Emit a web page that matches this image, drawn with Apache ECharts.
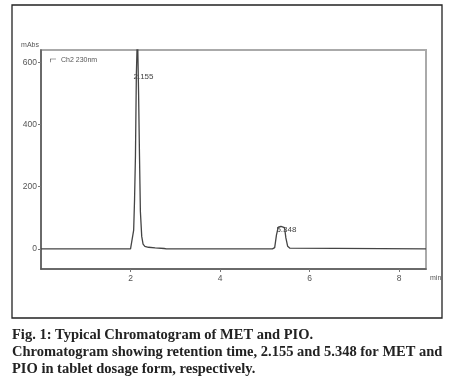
<!DOCTYPE html>
<html><head><meta charset="utf-8">
<script src="https://cdn.jsdelivr.net/npm/echarts@6/dist/echarts.min.js"></script>
<style>html,body{margin:0;padding:0;background:#fff}#c{width:466px;height:392px}</style>
</head><body><div id="c"></div>
<script>
// retention time (min) and absorbance (mAbs)
var times  = [0, 2.0, 2.04, 2.07, 2.09, 2.11, 2.13, 2.155, 2.18, 2.2, 2.22, 2.25, 2.28, 2.32, 2.4, 2.55, 2.75, 2.8, 5.17, 5.22, 5.26, 5.3, 5.33, 5.36, 5.4, 5.44, 5.47, 5.51, 5.56, 5.6, 8.6];
var values = [0, 0, 4, 60, 160, 300, 560, 700, 500, 300, 120, 40, 15, 8, 5, 3, 1, 0, 0, 4, 45, 70, 74, 72, 70, 68, 35, 8, 2, 0, 0];
var xTicks = [2, 4, 6, 8];
var yTicks = [0, 200, 400, 600];
var peakTimes  = [2.155, 5.348];
var peakLabels = ['2.155', '5.348'];
var peakLabelLevels = [555, 60];
var seriesName = 'Ch2 230nm';
var caption = [
  'Fig. 1: Typical Chromatogram of MET and PIO.',
  'Chromatogram showing retention time, 2.155 and 5.348 for MET and',
  'PIO in tablet dosage form, respectively.'
];

var pts = times.map(function (t, i) { return [t, values[i]]; });
var chart = echarts.init(document.getElementById('c'));
var tickFont = {fontSize: 8.5, color: '#555', fontFamily: 'Liberation Sans'};
chart.setOption({
  animation: false,
  grid: {left: 41, top: 50, right: 40, bottom: 123, show: true, borderColor: '#aaa', borderWidth: 2, backgroundColor: 'transparent'},
  legend: {left: 45, top: 52, itemWidth: 6, itemHeight: 4, itemGap: 2, icon: 'path://M0,0L10,0L10,1L1,1L1,6L0,6Z',
    textStyle: {fontSize: 7, color: '#555', fontFamily: 'Liberation Sans'}, data: [seriesName]},
  xAxis: {type: 'value', min: 0, max: 8.6, position: 'bottom',
    name: 'min', nameLocation: 'end', nameGap: 4, nameTextStyle: {fontSize: 7, color: '#555', verticalAlign: 'top', padding: [6,0,0,0]},
    axisLine: {onZero: false, lineStyle: {color: '#555', width: 1.5}},
    axisTick: {show: true, customValues: xTicks, length: 3, inside: false, lineStyle: {color: '#777'}},
    axisLabel: Object.assign({customValues: xTicks, margin: 5}, tickFont),
    splitLine: {show: false}},
  yAxis: {type: 'value', min: -65, max: 640,
    name: 'mAbs', nameLocation: 'end', nameGap: 1, nameTextStyle: {fontSize: 7, color: '#555', align: 'right', padding: [0, 2, 0, 0]},
    axisLine: {show: true, lineStyle: {color: '#555', width: 1.5}},
    axisTick: {show: true, customValues: yTicks, length: 3, lineStyle: {color: '#777'}},
    axisLabel: Object.assign({customValues: yTicks, margin: 4}, tickFont),
    splitLine: {show: false}},
  series: [{
    name: seriesName, type: 'line', data: pts, showSymbol: false, clip: true,
    lineStyle: {color: '#444', width: 1.3}, itemStyle: {color: '#444'},
    markPoint: {symbol: 'circle', symbolSize: 0,
      label: {show: true, fontSize: 8, color: '#444', fontFamily: 'Liberation Sans', position: 'inside', align: 'left', offset: [-4, 0]},
      data: peakTimes.map(function (t, i) { return {coord: [t, peakLabelLevels[i]], value: peakLabels[i], label: {formatter: peakLabels[i]}}; })}
  }],
  graphic: [
    {type: 'rect', shape: {x: 12, y: 5, width: 430, height: 313}, style: {fill: 'none', stroke: '#222', lineWidth: 1.3}, silent: true},
    {type: 'text', left: 12, top: 327, style: {text: caption.join('\n'), font: 'bold 14.5px "Liberation Serif"', fill: '#222', lineHeight: 17}}
  ]
});
</script></body></html>
